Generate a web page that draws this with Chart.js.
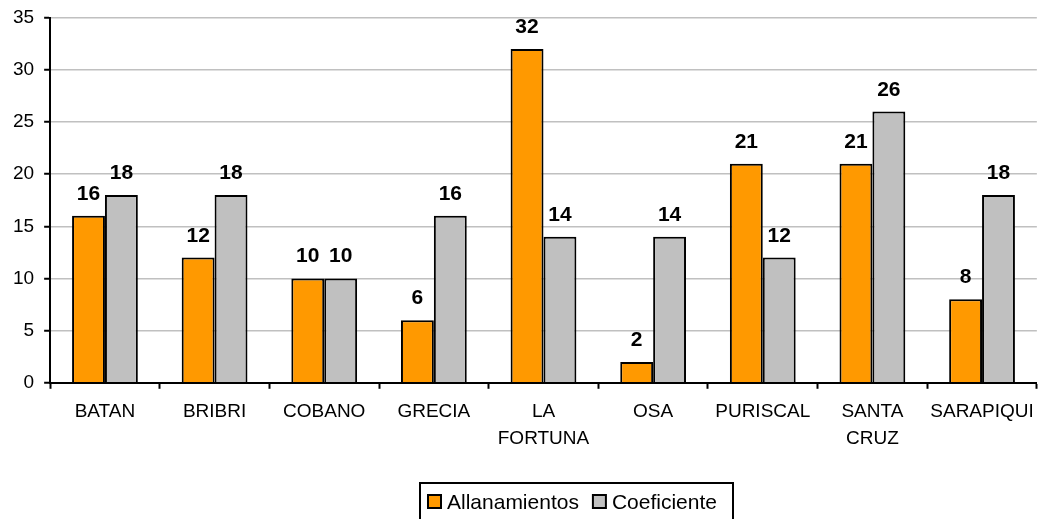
<!DOCTYPE html>
<html>
<head>
<meta charset="utf-8">
<script src="https://cdn.jsdelivr.net/npm/chart.js"></script>
<style>
  body { margin: 0; background: #fff; }
  #wrap { width: 1044px; height: 519px; }
</style>
</head>
<body>
<div id="wrap"><canvas id="chart"></canvas></div>
<script>
const categories = ["BATAN", "BRIBRI", "COBANO", "GRECIA", ["LA", "FORTUNA"], "OSA", "PURISCAL", ["SANTA", "CRUZ"], "SARAPIQUI"];
const allanamientos = [16, 12, 10, 6, 32, 2, 21, 21, 8];
const coeficiente = [18, 18, 10, 16, 14, 14, 12, 26, 18];
const seriesNames = ["Allanamientos", "Coeficiente"];
const seriesColors = ["#FF9900", "#C0C0C0"];

// numbers above each bar
const valueLabels = {
  id: "valueLabels",
  afterDatasetsDraw(chart) {
    const ctx = chart.ctx;
    ctx.save();
    ctx.font = "bold 21px 'Liberation Sans', Arial, sans-serif";
    ctx.fillStyle = "#000";
    ctx.textAlign = "center";
    ctx.textBaseline = "alphabetic";
    chart.data.datasets.forEach((ds, i) => {
      chart.getDatasetMeta(i).data.forEach((bar, j) => {
        ctx.fillText(ds.data[j], bar.x, bar.y - 16);
      });
    });
    ctx.restore();
  }
};

// boxed legend at the bottom, like the spreadsheet one
const boxLegend = {
  id: "boxLegend",
  afterDraw(chart) {
    const ctx = chart.ctx;
    ctx.save();
    ctx.lineWidth = 2;
    ctx.strokeStyle = "#000";
    ctx.strokeRect(420, 483, 313, 50);
    ctx.font = "21px 'Liberation Sans', Arial, sans-serif";
    ctx.textBaseline = "middle";
    ctx.textAlign = "left";
    let x = 428;
    const y = 502;
    chart.data.datasets.forEach((ds) => {
      ctx.fillStyle = ds.backgroundColor;
      ctx.fillRect(x, y - 7, 13, 13);
      ctx.lineWidth = 2;
      ctx.strokeRect(x, y - 7, 13, 13);
      ctx.fillStyle = "#000";
      ctx.fillText(ds.label, x + 19, y + 1);
      x += 19 + ctx.measureText(ds.label).width + 14;
    });
    ctx.restore();
  }
};

new Chart(document.getElementById("chart"), {
  type: "bar",
  data: {
    labels: categories,
    datasets: [
      {
        label: seriesNames[0],
        data: allanamientos,
        backgroundColor: seriesColors[0],
        borderColor: "#000",
        borderWidth: 2,
        categoryPercentage: 0.6,
        barPercentage: 1.0
      },
      {
        label: seriesNames[1],
        data: coeficiente,
        backgroundColor: seriesColors[1],
        borderColor: "#000",
        borderWidth: 2,
        categoryPercentage: 0.6,
        barPercentage: 1.0
      }
    ]
  },
  options: {
    responsive: true,
    maintainAspectRatio: false,
    animation: false,
    layout: { padding: { left: 3, right: 4, top: 0, bottom: 57 } },
    plugins: {
      legend: { display: false },
      tooltip: { enabled: false }
    },
    scales: {
      x: {
        grid: {
          drawOnChartArea: false,
          drawTicks: true,
          tickLength: 6,
          tickColor: "#000",
          tickWidth: 2
        },
        border: { color: "#000", width: 2 },
        ticks: {
          color: "#000",
          padding: 10,
          maxRotation: 0,
          autoSkip: false,
          font: { family: "'Liberation Sans', Arial, sans-serif", size: 19, lineHeight: 1.4 }
        }
      },
      y: {
        min: 0,
        max: 35,
        grid: {
          color: "#C0C0C0",
          lineWidth: 1.5,
          tickLength: 6,
          tickColor: "#000",
          tickWidth: 2
        },
        border: { color: "#000", width: 2 },
        ticks: {
          stepSize: 5,
          color: "#000",
          padding: 10,
          font: { family: "'Liberation Sans', Arial, sans-serif", size: 19, lineHeight: 0.8 }
        }
      }
    }
  },
  plugins: [valueLabels, boxLegend]
});
</script>
</body>
</html>
